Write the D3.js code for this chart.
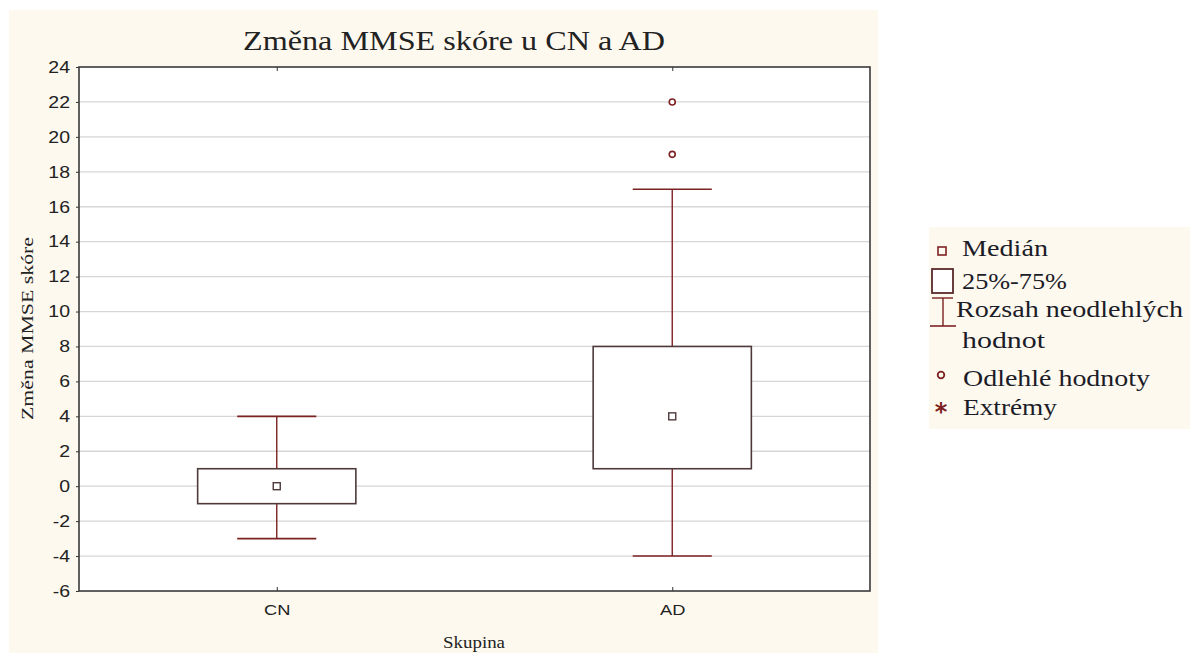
<!DOCTYPE html>
<html lang="cs">
<head>
<meta charset="utf-8">
<title>Změna MMSE skóre u CN a AD</title>
<script src="https://d3js.org/d3.v7.min.js"></script>
<style>
  body { margin: 0; background: #ffffff; }
  svg { display: block; }
</style>
</head>
<body>
<div id="chart"></div>
<script>
// data
var groups = ["CN", "AD"];
var whiskerLow = [-3, -4];
var q1 = [-1, 1];
var medians = [0, 4];
var q3 = [1, 8];
var whiskerHigh = [4, 17];
var outliers = [[], [19, 22]];
var yTicks = [-6, -4, -2, 0, 2, 4, 6, 8, 10, 12, 14, 16, 18, 20, 22, 24];
var legendItems = ["Medián", "25%-75%", "Rozsah neodlehlých", "hodnot", "Odlehlé hodnoty", "Extrémy"];

var W = 1190, H = 653;
var plotL = 79, plotR = 870, plotT = 67, plotB = 591;
var cream = "#fdf9ef";
var boxCol = "#4e3a3a";
var redCol = "#7d2222";
var stretch = 1.18; // the original text looks a little wide

var svg = d3.select("#chart").append("svg")
  .attr("width", W)
  .attr("height", H);

// cream panels
svg.append("rect").attr("x", 9).attr("y", 10).attr("width", 869).attr("height", 643).attr("fill", cream);
svg.append("rect").attr("x", 929).attr("y", 227).attr("width", 261).attr("height", 202).attr("fill", cream);

var x = d3.scalePoint().domain(groups).range([plotL, plotR]).padding(0.5);
var y = d3.scaleLinear().domain([-6, 24]).range([plotB, plotT]);
var bw = (plotR - plotL) * 0.2;

svg.append("rect")
  .attr("x", plotL).attr("y", plotT)
  .attr("width", plotR - plotL).attr("height", plotB - plotT)
  .attr("fill", "#ffffff");

// grid
svg.append("g").selectAll("line")
  .data(yTicks.slice(1, -1))
  .enter().append("line")
  .attr("x1", plotL).attr("x2", plotR)
  .attr("y1", function(d){ return y(d); })
  .attr("y2", function(d){ return y(d); })
  .attr("stroke", "#d6d6d6")
  .attr("stroke-width", 1.3);

// y axis (plain hyphen for negatives, like the original)
var yAxis = svg.append("g")
  .attr("transform", "translate(" + plotL + ",0)")
  .call(d3.axisLeft(y).tickValues(yTicks).tickSize(3).tickPadding(6)
    .tickFormat(function(d){ return String(d); }));
yAxis.select(".domain").remove();
yAxis.selectAll("line").attr("stroke", "#333");
yAxis.selectAll("text")
  .attr("x", -9 / stretch)
  .attr("transform", "scale(" + stretch + ",1)")
  .attr("font-family", "Liberation Sans, Arial, sans-serif")
  .attr("font-size", 16.5)
  .attr("fill", "#222");

// x axis
var xAxis = svg.append("g")
  .attr("transform", "translate(0," + plotB + ")")
  .call(d3.axisBottom(x).tickSize(-4).tickPadding(13));
xAxis.select(".domain").remove();
xAxis.selectAll("line").attr("stroke", "#333");
xAxis.selectAll("text")
  .attr("transform", "scale(" + stretch + ",1)")
  .attr("font-family", "Liberation Sans, Arial, sans-serif")
  .attr("font-size", 15.5)
  .attr("fill", "#222");

var xTop = svg.append("g")
  .attr("transform", "translate(0," + plotT + ")")
  .call(d3.axisTop(x).tickSize(-4).tickFormat(""));
xTop.select(".domain").remove();
xTop.selectAll("line").attr("stroke", "#333");

// boxes
var g = svg.append("g").selectAll("g")
  .data(groups)
  .enter().append("g");

g.append("line")
  .attr("x1", function(d){ return x(d); })
  .attr("x2", function(d){ return x(d); })
  .attr("y1", function(d, i){ return y(whiskerHigh[i]); })
  .attr("y2", function(d, i){ return y(q3[i]); })
  .attr("stroke", redCol).attr("stroke-width", 1.4);
g.append("line")
  .attr("x1", function(d){ return x(d); })
  .attr("x2", function(d){ return x(d); })
  .attr("y1", function(d, i){ return y(q1[i]); })
  .attr("y2", function(d, i){ return y(whiskerLow[i]); })
  .attr("stroke", redCol).attr("stroke-width", 1.4);

[whiskerHigh, whiskerLow].forEach(function(arr){
  g.append("line")
    .attr("x1", function(d){ return x(d) - bw / 4; })
    .attr("x2", function(d){ return x(d) + bw / 4; })
    .attr("y1", function(d, i){ return y(arr[i]); })
    .attr("y2", function(d, i){ return y(arr[i]); })
    .attr("stroke", redCol).attr("stroke-width", 1.6);
});

g.append("rect")
  .attr("x", function(d){ return x(d) - bw / 2; })
  .attr("y", function(d, i){ return y(q3[i]); })
  .attr("width", bw)
  .attr("height", function(d, i){ return y(q1[i]) - y(q3[i]); })
  .attr("fill", "#ffffff")
  .attr("stroke", boxCol).attr("stroke-width", 1.6);

g.append("rect")
  .attr("x", function(d){ return x(d) - 3.5; })
  .attr("y", function(d, i){ return y(medians[i]) - 3.5; })
  .attr("width", 7).attr("height", 7)
  .attr("fill", "#ffffff")
  .attr("stroke", boxCol).attr("stroke-width", 1.4);

g.each(function(d, i){
  d3.select(this).selectAll("circle")
    .data(outliers[i])
    .enter().append("circle")
    .attr("cx", x(d))
    .attr("cy", function(v){ return y(v); })
    .attr("r", 3)
    .attr("fill", "#ffffff")
    .attr("stroke", redCol).attr("stroke-width", 1.6);
});

// frame
svg.append("rect")
  .attr("x", plotL).attr("y", plotT)
  .attr("width", plotR - plotL).attr("height", plotB - plotT)
  .attr("fill", "none")
  .attr("stroke", "#3a3a3a").attr("stroke-width", 1.6);

// titles
var serif = "Liberation Serif, Times New Roman, serif";
svg.append("text")
  .attr("x", 243).attr("y", 50)
  .attr("textLength", 422).attr("lengthAdjust", "spacingAndGlyphs")
  .attr("font-family", serif).attr("font-size", 28)
  .attr("fill", "#222")
  .text("Změna MMSE skóre u CN a AD");

svg.append("text")
  .attr("transform", "translate(33," + ((plotT + plotB) / 2) + ") rotate(-90)")
  .attr("x", -91)
  .attr("textLength", 183).attr("lengthAdjust", "spacingAndGlyphs")
  .attr("font-family", serif).attr("font-size", 16)
  .attr("fill", "#222")
  .text("Změna MMSE skóre");

svg.append("text")
  .attr("x", 443).attr("y", 648)
  .attr("textLength", 62).attr("lengthAdjust", "spacingAndGlyphs")
  .attr("font-family", serif).attr("font-size", 16)
  .attr("fill", "#222")
  .text("Skupina");

// legend
var legText = [
  {x: 962, y: 256, w: 86}, {x: 962, y: 289, w: 105}, {x: 956, y: 317, w: 227},
  {x: 962, y: 348, w: 83}, {x: 963, y: 386, w: 187}, {x: 963, y: 415, w: 94}
];
svg.append("g").selectAll("text")
  .data(legendItems)
  .enter().append("text")
  .attr("x", function(d, i){ return legText[i].x; })
  .attr("y", function(d, i){ return legText[i].y; })
  .attr("textLength", function(d, i){ return legText[i].w; })
  .attr("lengthAdjust", "spacingAndGlyphs")
  .attr("font-family", serif)
  .attr("font-size", 24)
  .attr("fill", "#1c1c28")
  .text(function(d){ return d; });

var leg = svg.append("g");
leg.append("rect").attr("x", 938).attr("y", 247).attr("width", 8).attr("height", 8)
  .attr("fill", "none").attr("stroke", redCol).attr("stroke-width", 1.6);
leg.append("rect").attr("x", 932).attr("y", 269).attr("width", 21).attr("height", 24)
  .attr("fill", "#ffffff").attr("stroke", "#5a2a2a").attr("stroke-width", 1.8);
leg.append("line").attr("x1", 932).attr("x2", 953).attr("y1", 298).attr("y2", 298)
  .attr("stroke", redCol).attr("stroke-width", 1.4);
leg.append("line").attr("x1", 943).attr("x2", 943).attr("y1", 298).attr("y2", 326)
  .attr("stroke", redCol).attr("stroke-width", 1.4);
leg.append("line").attr("x1", 930).attr("x2", 956).attr("y1", 326).attr("y2", 326)
  .attr("stroke", redCol).attr("stroke-width", 1.6);
leg.append("circle").attr("cx", 941).attr("cy", 375).attr("r", 3.3)
  .attr("fill", "none").attr("stroke", redCol).attr("stroke-width", 1.8);
leg.append("text").attr("x", 941).attr("y", 420)
  .attr("text-anchor", "middle")
  .attr("font-family", "DejaVu Sans, sans-serif").attr("font-size", 24)
  .attr("font-weight", "bold")
  .attr("fill", redCol).text("*");
</script>
</body>
</html>
